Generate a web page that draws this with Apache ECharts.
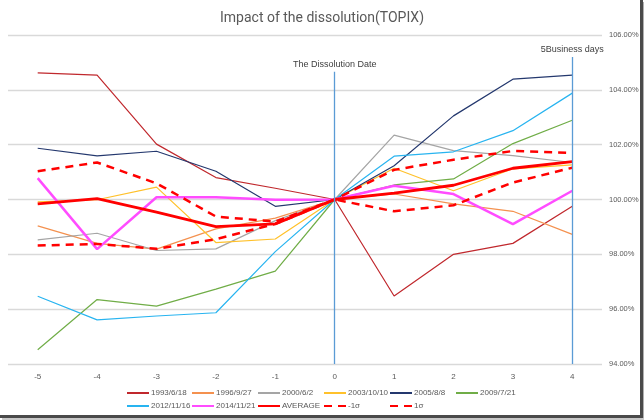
<!DOCTYPE html>
<html>
<head>
<meta charset="utf-8">
<script src="https://cdn.jsdelivr.net/npm/echarts@6/dist/echarts.min.js"></script>
<style>html,body{margin:0;padding:0;background:#fff}#c{width:644px;height:420px}</style>
</head>
<body>
<div id="c"></div>
<script>
var categories = ['-5','-4','-3','-2','-1','0','1','2','3','4'];
var yTicks = [94, 96, 98, 100, 102, 104, 106];
var s1993 = [104.62,104.54,102.02,100.80,100.41,100,96.48,98.00,98.40,99.75];
var s1996 = [99.04,98.40,98.19,98.93,99.32,100,100.20,99.84,99.57,98.73];
var s2000 = [98.53,98.77,98.14,98.20,99.23,100,102.35,101.78,101.60,101.35];
var s2003 = [99.91,99.99,100.45,98.43,98.56,100,101.14,100.32,101.12,101.26];
var s2005 = [101.87,101.59,101.76,101.03,99.75,100,101.23,103.05,104.39,104.54];
var s2009 = [94.52,96.35,96.11,96.73,97.39,100,100.53,100.75,102.04,102.89];
var s2012 = [96.47,95.61,95.75,95.87,98.10,100,101.58,101.74,102.51,103.88];
var s2014 = [100.78,98.19,100.08,100.08,99.99,100,100.50,100.20,99.10,100.32];
var average = [99.84,100.03,99.54,99.01,99.11,100,100.23,100.52,101.14,101.38];
var sigmaMinus = [98.32,98.38,98.20,98.55,99.11,100,99.57,99.79,100.62,101.16];
var sigmaPlus = [101.03,101.35,100.59,99.38,99.19,100,101.08,101.45,101.77,101.70];
var seriesNames = ['1993/6/18','1996/9/27','2000/6/2','2003/10/10','2005/8/8','2009/7/21','2012/11/16','2014/11/21','AVERAGE','-1σ','1σ'];
var markers = [
  {cat: 5, top: 104.66, label: 'The Dissolution Date'},
  {cat: 9, top: 105.2, label: '5Business days'}
];

var FONT = '"Liberation Sans", Arial, sans-serif';
var TFONT = 'Roboto, "Liberation Sans", sans-serif';
var TXT = '#595959';

function lineSeries(name, data, color, width, dash) {
  return {
    name: name, type: 'line', data: data, symbol: 'none', silent: true,
    lineStyle: {color: color, width: width, type: dash || 'solid'},
    itemStyle: {color: color},
    emphasis: {disabled: true}, animation: false
  };
}

var series = [
  lineSeries(seriesNames[0], s1993, '#C0282D', 1.2),
  lineSeries(seriesNames[1], s1996, '#F4914F', 1.2),
  lineSeries(seriesNames[2], s2000, '#A5A5A5', 1.2),
  lineSeries(seriesNames[3], s2003, '#FFC12B', 1.2),
  lineSeries(seriesNames[4], s2005, '#24386E', 1.2),
  lineSeries(seriesNames[5], s2009, '#70AD47', 1.2),
  lineSeries(seriesNames[6], s2012, '#28B4F0', 1.2),
  lineSeries(seriesNames[7], s2014, '#FF4CFF', 2.5),
  lineSeries(seriesNames[8], average, '#FF0000', 2.8),
  lineSeries(seriesNames[9], sigmaMinus, '#FF0000', 2.5, [8,6]),
  lineSeries(seriesNames[10], sigmaPlus, '#FF0000', 2.5, [8,6])
];

series[0].markLine = {
  silent: true, symbol: 'none', animation: false,
  lineStyle: {color: '#5B9BD5', width: 1.3, type: 'solid'},
  label: {show: true, position: 'end', distance: 3, color: '#404040', fontSize: 9, fontFamily: FONT},
  data: markers.map(function (m) {
    return [
      {coord: [m.cat, yTicks[0]], label: {formatter: m.label}},
      {coord: [m.cat, m.top]}
    ];
  })
};

var legendCols = [126, 191, 257, 323, 389, 455];
var legends = seriesNames.map(function (n, i) {
  var row = i < 6 ? 0 : 1;
  var col = i < 6 ? i : i - 6;
  return {
    data: [n], left: legendCols[col], top: row === 0 ? 389 : 402,
    itemWidth: 22, itemHeight: 8, itemGap: 0, selectedMode: false,
    itemStyle: {opacity: 0},
    textStyle: {color: TXT, fontSize: 8, fontFamily: FONT, padding: [0,0,0,-3]},
    padding: 0
  };
});

var chart = echarts.init(document.getElementById('c'), null, {renderer: 'canvas'});
chart.setOption({
  animation: false,
  backgroundColor: '#fff',
  title: {
    text: 'Impact of the dissolution(TOPIX)', left: 'center', top: 6,
    textStyle: {color: TXT, fontSize: 14, fontWeight: 'normal', fontFamily: TFONT}
  },
  legend: legends,
  grid: {left: 8, right: 42, top: 35, bottom: 56, outerBoundsMode: 'none'},
  xAxis: {
    type: 'category', data: categories, boundaryGap: true,
    axisLine: {show: false}, axisTick: {show: false},
    axisLabel: {color: TXT, fontSize: 8, fontFamily: FONT, margin: 9}
  },
  yAxis: {
    type: 'value', position: 'right', min: yTicks[0], max: yTicks[yTicks.length-1], interval: 2,
    axisLine: {show: false}, axisTick: {show: false},
    splitLine: {lineStyle: {color: '#D9D9D9', width: 1.3}},
    axisLabel: {color: TXT, fontSize: 7.5, fontFamily: FONT, margin: 7,
      formatter: function (v) { return v.toFixed(2) + '%'; }}
  },
  series: series,
  graphic: [
    {type: 'rect', shape: {x: 640, y: 0, width: 3, height: 418}, style: {fill: '#4a4a4a'}, silent: true},
    {type: 'rect', shape: {x: 0, y: 415, width: 643, height: 3}, style: {fill: '#4a4a4a'}, silent: true},
    {type: 'rect', shape: {x: 643, y: 2, width: 1, height: 418}, style: {fill: '#b0b0b0'}, silent: true},
    {type: 'rect', shape: {x: 2, y: 418, width: 642, height: 2}, style: {fill: '#c8c8c8'}, silent: true}
  ]
});
</script>
</body>
</html>
